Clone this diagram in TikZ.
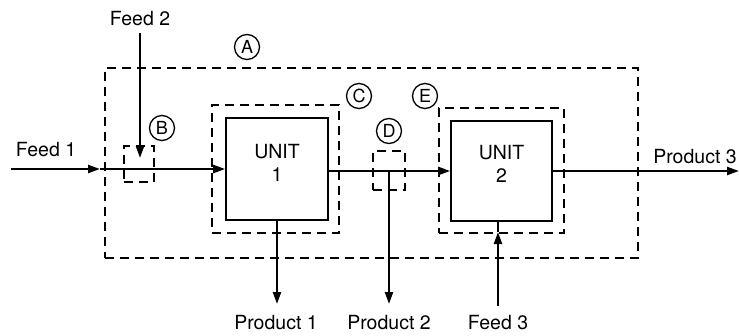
\documentclass[tikz,border=0pt]{standalone}
\usepackage{fontspec}
\setmainfont{TeX Gyre Heros}
\usetikzlibrary{arrows.meta}
\begin{document}
\begin{tikzpicture}[x=1pt,y=-1pt,
  lbl/.style={font=\fontsize{19.5}{23}\selectfont, inner sep=0pt},
  unitbox/.style={draw, line width=1.6pt, inner sep=0pt},
  dbox/.style={draw, dashed, dash pattern=on 9pt off 6pt, line width=1.5pt, inner sep=0pt},
  tag/.style={draw, circle, line width=1.3pt, minimum size=25pt, inner sep=0pt, font=\fontsize{18}{20}\selectfont},
  flow/.style={line width=2.3pt},
  arr/.style={line width=2.3pt, -{Triangle[length=12pt,width=8pt]}}
]
\useasboundingbox (0,0) rectangle (739,335);

% dashed control volumes
\node[dbox, minimum width=533pt, minimum height=190pt] (A) at (371.5,163) {};
\node[dbox, minimum width=127pt, minimum height=128pt] (C) at (275.5,169) {};
\node[dbox, minimum width=125pt, minimum height=125pt] (E) at (501.5,170.5) {};
\node[dbox, minimum width=30pt, minimum height=36pt] (B) at (139,164) {};
\node[dbox, minimum width=32pt, minimum height=39pt] (D) at (389,170.5) {};

% units
\node[unitbox, minimum width=102pt, minimum height=102pt] (u1) at (277,169) {};
\node[unitbox, minimum width=101pt, minimum height=100pt] (u2) at (501.5,171) {};
\node[lbl, align=center] (u1t) at (277,163) {UNIT\\1};
\node[lbl, align=center] (u2t) at (501.5,164) {UNIT\\2};

% tags
\node[tag] (tA) at (247,47) {A};
\node[tag] (tB) at (162,128) {B};
\node[tag] (tC) at (359,96) {C};
\node[tag] (tD) at (389,131) {D};
\node[tag] (tE) at (425,96) {E};

% text labels
\node[lbl] (f1) at (46,150) {Feed 1};
\node[lbl] (f2) at (140,19) {Feed 2};
\node[lbl] (f3) at (498,323) {Feed 3};
\node[lbl] (p1) at (276,323) {Product 1};
\node[lbl] (p2) at (389,323) {Product 2};
\node[lbl] (p3) at (695,157) {Product 3};

% coordinates for free ends
\coordinate (f1s) at (11,169);
\coordinate (f1m) at (100,169);
\coordinate (f2s) at (140,33);
\coordinate (f2e) at (140,158);
\coordinate (j2) at (389,171);
\coordinate (p1e) at (277,304);
\coordinate (p2e) at (389,304);
\coordinate (f3s) at (498,306);
\coordinate (f3m) at (498,232);
\coordinate (p3e) at (739,171);

% flows
\draw[arr] (f1s) -- (f1m);
\draw[arr] (f1m) -- (u1.west);
\draw[arr] (f2s) -- (f2e);
\draw[arr] (u1.east |- j2) -- (u2.west |- j2);
\draw[arr] (u1.south) -- (p1e);
\draw[arr] (j2) -- (p2e);
\draw[arr] (f3s) -- (f3m);
\draw[flow] (f3m) -- (u2.south -| f3m);
\draw[arr] (u2.east |- p3e) -- (p3e);
\end{tikzpicture}
\end{document}
